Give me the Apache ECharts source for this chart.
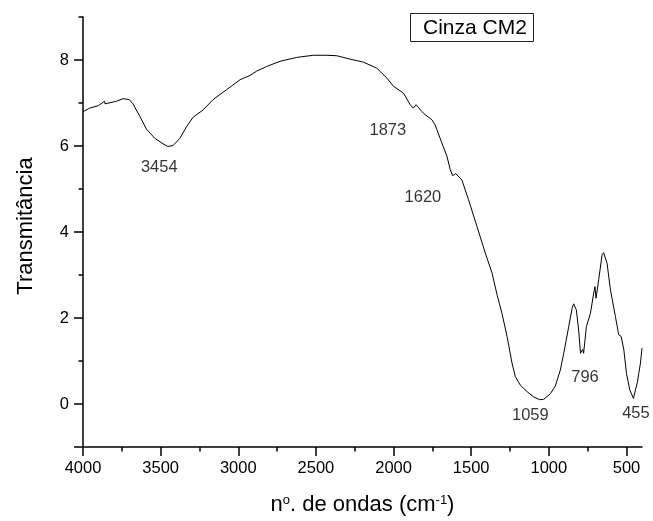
<!DOCTYPE html>
<html>
<head>
<meta charset="utf-8">
<script src="https://cdn.jsdelivr.net/npm/echarts@6/dist/echarts.min.js"></script>
<style>
  html, body { margin: 0; padding: 0; background: #fff; }
  #chart { width: 653px; height: 521px; }
</style>
</head>
<body>
<div id="chart"></div>
<script>
// FTIR spectrum of the ash sample "Cinza CM2"
const wavenumber = [
  4000, 3957, 3900, 3862, 3858, 3785, 3742, 3703, 3678, 3634, 3591, 3538, 3484, 3454,
  3420, 3376, 3333, 3291, 3226, 3162, 3075, 2989, 2925, 2882, 2817, 2731, 2624, 2517,
  2430, 2370, 2362, 2355, 2280, 2194, 2108, 2043, 2001, 1936, 1893, 1873, 1855, 1840,
  1818, 1797, 1775, 1753, 1732, 1721, 1689, 1656, 1635, 1620, 1600, 1590, 1560, 1517,
  1463, 1409, 1366, 1334, 1302, 1269, 1237, 1216, 1184, 1141, 1100, 1059, 1033, 990,
  958, 926, 904, 872, 850, 840, 823, 808, 796, 782, 776, 758, 732, 711, 703, 696, 679,
  657, 647, 625, 603, 571, 550, 534, 517, 500, 479, 455, 442, 430, 421, 410, 400
];
const transmittance = [
  6.80, 6.88, 6.94, 7.04, 6.98, 7.04, 7.10, 7.08, 6.98, 6.69, 6.39, 6.18, 6.05, 5.99,
  6.01, 6.18, 6.45, 6.67, 6.84, 7.08, 7.31, 7.54, 7.64, 7.74, 7.85, 7.97, 8.06, 8.11,
  8.11, 8.10, 8.14, 8.09, 8.02, 7.95, 7.81, 7.58, 7.39, 7.23, 6.96, 6.88, 6.96, 6.90,
  6.80, 6.73, 6.67, 6.61, 6.49, 6.38, 6.07, 5.76, 5.45, 5.31, 5.36, 5.35, 5.21, 4.75,
  4.13, 3.51, 3.05, 2.55, 2.11, 1.57, 0.95, 0.64, 0.44, 0.29, 0.17, 0.10, 0.11, 0.24,
  0.42, 0.79, 1.18, 1.80, 2.23, 2.33, 2.19, 1.72, 1.18, 1.27, 1.18, 1.80, 2.11, 2.58,
  2.73, 2.46, 2.89, 3.47, 3.52, 3.27, 2.65, 2.03, 1.61, 1.57, 1.26, 0.71, 0.33, 0.13,
  0.33, 0.50, 0.71, 0.95, 1.30
];

// band assignments written next to the spectrum (text, anchor wavenumber, anchor value)
const peakLabels = ['3454', '1873', '1620', '1059', '796', '455'];
const peakLabelX = [3509, 2037, 1811, 1119, 767, 439];
const peakLabelY = [5.51, 6.35, 4.80, -0.26, 0.62, -0.23];

const xMajorTicks = [4000, 3500, 3000, 2500, 2000, 1500, 1000, 500];
const xMinorTicks = [3750, 3250, 2750, 2250, 1750, 1250, 750];
const yLabelTicks = [0, 2, 4, 6, 8];
const yMajorTicks = [-1, 0, 2, 4, 6, 8];
const yMinorTicks = [1, 3, 5, 7, 9];

const sampleName = 'Cinza CM2';
const xTitle = ['n', 'o', '. de ondas (cm', '-1', ')'];
const yTitle = 'Transmitância';

const FONT = '"Liberation Sans", Arial, Helvetica, sans-serif';
const INK = '#000';

const spectrum = wavenumber.map((w, i) => [w, transmittance[i]]);
const annotations = peakLabels.map((t, i) => [peakLabelX[i], peakLabelY[i], t]);

const axisLineStyle = { color: INK, width: 1.5 };
const plainNumber = v => String(v);

const chart = echarts.init(document.getElementById('chart'), null, { renderer: 'canvas' });
chart.setOption({
  animation: false,
  backgroundColor: '#fff',
  grid: { left: 83, right: 11, top: 17, bottom: 74, outerBoundsMode: 'none', containLabel: false },
  xAxis: [
    {
      type: 'value', inverse: true, min: 400, max: 4000, position: 'bottom',
      axisLine: { show: true, onZero: false, lineStyle: axisLineStyle },
      axisTick: { show: true, inside: false, length: 9, customValues: xMajorTicks, lineStyle: axisLineStyle },
      axisLabel: { show: true, customValues: xMajorTicks, formatter: plainNumber, fontSize: 16.5, color: INK, fontFamily: FONT, margin: 13 },
      splitLine: { show: false },
      name: '{t|' + xTitle[0] + '}{s|' + xTitle[1] + '}{t|' + xTitle[2] + '}{s|' + xTitle[3] + '}{t|' + xTitle[4] + '}',
      nameLocation: 'middle',
      nameGap: 43,
      nameTextStyle: {
        rich: {
          t: { fontSize: 22, color: INK, fontFamily: FONT, lineHeight: 26, verticalAlign: 'bottom' },
          s: { fontSize: 13, color: INK, fontFamily: FONT, lineHeight: 26, verticalAlign: 'bottom', padding: [0, 0, 9, 0] }
        }
      }
    },
    {
      type: 'value', inverse: true, min: 400, max: 4000, position: 'bottom',
      axisLine: { show: false, onZero: false },
      axisTick: { show: true, inside: false, length: 4.5, customValues: xMinorTicks, lineStyle: axisLineStyle },
      axisLabel: { show: false },
      splitLine: { show: false }
    }
  ],
  yAxis: [
    {
      type: 'value', min: -1, max: 9, position: 'left',
      axisLine: { show: true, onZero: false, lineStyle: axisLineStyle },
      axisTick: { show: true, inside: false, length: 9, customValues: yMajorTicks, lineStyle: axisLineStyle },
      axisLabel: { show: true, customValues: yLabelTicks, formatter: plainNumber, fontSize: 16.5, color: INK, fontFamily: FONT, margin: 14 },
      splitLine: { show: false },
      name: yTitle,
      nameLocation: 'middle',
      nameRotate: 90,
      nameGap: 46,
      nameTextStyle: { fontSize: 22, color: INK, fontFamily: FONT, padding: [0, 0, 0, 12] }
    },
    {
      type: 'value', min: -1, max: 9, position: 'left',
      axisLine: { show: false, onZero: false },
      axisTick: { show: true, inside: false, length: 4.5, customValues: yMinorTicks, lineStyle: axisLineStyle },
      axisLabel: { show: false },
      splitLine: { show: false }
    }
  ],
  series: [
    {
      name: sampleName,
      type: 'line',
      xAxisIndex: 0, yAxisIndex: 0,
      data: spectrum,
      showSymbol: false,
      symbol: 'none',
      smooth: false,
      lineStyle: { color: INK, width: 1 },
      z: 3
    },
    {
      name: 'bandas',
      type: 'scatter',
      xAxisIndex: 0, yAxisIndex: 0,
      data: annotations,
      symbolSize: 1,
      itemStyle: { color: 'rgba(0,0,0,0)' },
      silent: true,
      label: {
        show: true,
        position: 'inside',
        formatter: p => p.value[2],
        fontSize: 16.5,
        color: INK,
        fontFamily: FONT
      },
      z: 4
    }
  ],
  graphic: [
    {
      type: 'group',
      left: 410,
      top: 13,
      children: [
        {
          type: 'rect',
          shape: { x: 0.5, y: 0.5, width: 123, height: 28 },
          style: { fill: '#fff', stroke: '#222', lineWidth: 1 }
        },
        {
          type: 'text',
          x: 13,
          y: 15,
          style: { text: sampleName, fontSize: 21, fill: INK, fontFamily: FONT, verticalAlign: 'middle', align: 'left' }
        }
      ]
    }
  ]
});
</script>
</body>
</html>
